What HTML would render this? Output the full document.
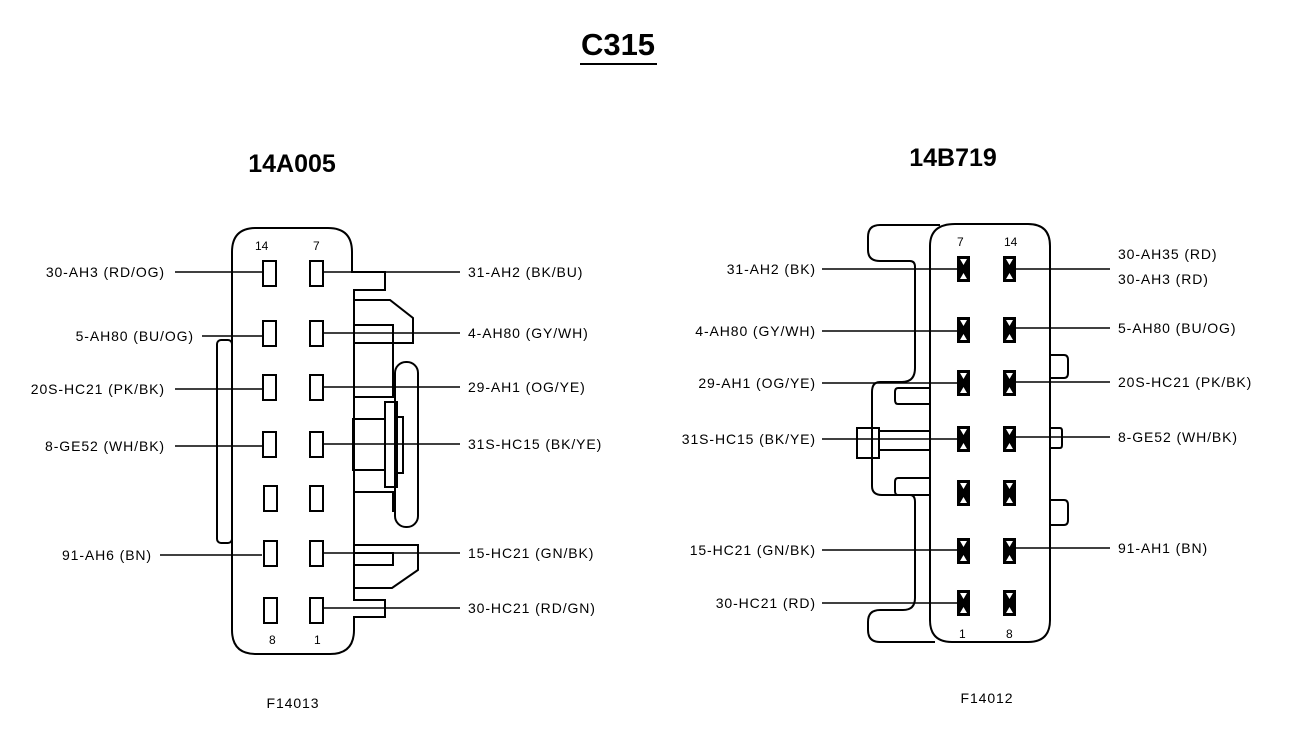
<!DOCTYPE html>
<html><head><style>
html,body{margin:0;padding:0;background:#fff;}
svg{display:block;}
text{font-family:"Liberation Sans",sans-serif;fill:#000;}
.l text.w{font-size:14px;letter-spacing:0.9px;}
</style></head><body>
<svg width="1312" height="752" viewBox="0 0 1312 752" xmlns="http://www.w3.org/2000/svg">
<g fill="none" stroke="#000" stroke-width="2">
<line x1="580" y1="64" x2="657" y2="64"/>
<path d="M256 228 H328 Q352 228 352 252 V272 H385 V290 H354 V600 H385 V617 H354 V630 Q354 654 330 654 H256 Q232 654 232 630 V252 Q232 228 256 228 Z"/>
<rect x="217" y="340" width="15" height="203" rx="4"/>
<path d="M354 300 H390 L413 318 V343 H354"/>
<path d="M354 325 H393 V343"/>
<path d="M354 397 H393 V325"/>
<rect x="395" y="362" width="23" height="165" rx="11"/>
<rect x="353" y="419" width="32" height="51"/>
<rect x="385" y="402" width="12" height="85"/>
<rect x="397" y="417" width="6" height="56"/>
<path d="M354 492 H393 V512"/>
<path d="M354 545 H418 V570 L392 588 H354"/>
<path d="M354 553 H393 V565 H354"/>
<g>
<rect x="263" y="261" width="13" height="25"/><rect x="310" y="261" width="13" height="25"/>
<rect x="263" y="321" width="13" height="25"/><rect x="310" y="321" width="13" height="25"/>
<rect x="263" y="375" width="13" height="25"/><rect x="310" y="375" width="13" height="25"/>
<rect x="263" y="432" width="13" height="25"/><rect x="310" y="432" width="13" height="25"/>
<rect x="264" y="486" width="13" height="25"/><rect x="310" y="486" width="13" height="25"/>
<rect x="264" y="541" width="13" height="25"/><rect x="310" y="541" width="13" height="25"/>
<rect x="264" y="598" width="13" height="25"/><rect x="310" y="598" width="13" height="25"/>
</g>
</g>
<g stroke="#000" stroke-width="1.5">
<line x1="175" y1="272" x2="263" y2="272"/>
<line x1="202" y1="336" x2="263" y2="336"/>
<line x1="175" y1="389" x2="263" y2="389"/>
<line x1="175" y1="446" x2="263" y2="446"/>
<line x1="160" y1="555" x2="262" y2="555"/>
<line x1="323" y1="272" x2="460" y2="272"/>
<line x1="323" y1="333" x2="460" y2="333"/>
<line x1="323" y1="387" x2="460" y2="387"/>
<line x1="324" y1="444" x2="460" y2="444"/>
<line x1="324" y1="553" x2="460" y2="553"/>
<line x1="324" y1="608" x2="460" y2="608"/>
</g>
<g fill="none" stroke="#000" stroke-width="2">
<path d="M955 224 H1028 Q1050 224 1050 246 V620 Q1050 642 1028 642 H952 Q930 642 930 620 V246 Q930 224 955 224 Z"/>
<path d="M940 225 H880 Q868 225 868 237 V250 Q868 261 880 261 H910 Q915 261 915 267 V368 Q915 382 902 382 H880 Q872 382 872 392 V486 Q872 495 882 495 H910 Q915 495 915 502 V598 Q915 610 903 610 H880 Q868 610 868 622 V630 Q868 642 880 642 H935"/>
<path d="M930 388 H898 Q895 388 895 392 V400 Q895 404 898 404 H930"/>
<path d="M930 478 H898 Q895 478 895 482 V491 Q895 495 898 495 H930"/>
<rect x="857" y="428" width="22" height="30"/>
<line x1="879" y1="431" x2="930" y2="431"/>
<line x1="879" y1="450" x2="930" y2="450"/>
<path d="M1050 355 H1064 Q1068 355 1068 360 V373 Q1068 378 1064 378 H1050"/>
<path d="M1050 428 H1060 Q1062 428 1062 431 V445 Q1062 448 1060 448 H1050"/>
<path d="M1050 500 H1064 Q1068 500 1068 505 V520 Q1068 525 1064 525 H1050"/>
</g>
<g fill="#000">
<rect x="957" y="256" width="13" height="26"/><rect x="1003" y="256" width="13" height="26"/>
<rect x="957" y="317" width="13" height="26"/><rect x="1003" y="317" width="13" height="26"/>
<rect x="957" y="370" width="13" height="26"/><rect x="1003" y="370" width="13" height="26"/>
<rect x="957" y="426" width="13" height="26"/><rect x="1003" y="426" width="13" height="26"/>
<rect x="957" y="480" width="13" height="26"/><rect x="1003" y="480" width="13" height="26"/>
<rect x="957" y="538" width="13" height="26"/><rect x="1003" y="538" width="13" height="26"/>
<rect x="957" y="590" width="13" height="26"/><rect x="1003" y="590" width="13" height="26"/>
</g>
<g fill="#fff">
<path d="M960 259 H967 L963.5 265 Z M960 279 H967 L963.5 273 Z M1006 259 H1013 L1009.5 265 Z M1006 279 H1013 L1009.5 273 Z"/>
<path d="M960 320 H967 L963.5 326 Z M960 340 H967 L963.5 334 Z M1006 320 H1013 L1009.5 326 Z M1006 340 H1013 L1009.5 334 Z"/>
<path d="M960 373 H967 L963.5 379 Z M960 393 H967 L963.5 387 Z M1006 373 H1013 L1009.5 379 Z M1006 393 H1013 L1009.5 387 Z"/>
<path d="M960 429 H967 L963.5 435 Z M960 449 H967 L963.5 443 Z M1006 429 H1013 L1009.5 435 Z M1006 449 H1013 L1009.5 443 Z"/>
<path d="M960 483 H967 L963.5 489 Z M960 503 H967 L963.5 497 Z M1006 483 H1013 L1009.5 489 Z M1006 503 H1013 L1009.5 497 Z"/>
<path d="M960 541 H967 L963.5 547 Z M960 561 H967 L963.5 555 Z M1006 541 H1013 L1009.5 547 Z M1006 561 H1013 L1009.5 555 Z"/>
<path d="M960 593 H967 L963.5 599 Z M960 613 H967 L963.5 607 Z M1006 593 H1013 L1009.5 599 Z M1006 613 H1013 L1009.5 607 Z"/>
</g>
<g stroke="#000" stroke-width="1.5">
<line x1="822" y1="269" x2="957" y2="269"/>
<line x1="822" y1="331" x2="957" y2="331"/>
<line x1="822" y1="383" x2="957" y2="383"/>
<line x1="822" y1="439" x2="957" y2="439"/>
<line x1="822" y1="550" x2="957" y2="550"/>
<line x1="822" y1="603" x2="957" y2="603"/>
<line x1="1016" y1="269" x2="1110" y2="269"/>
<line x1="1016" y1="328" x2="1110" y2="328"/>
<line x1="1016" y1="382" x2="1110" y2="382"/>
<line x1="1016" y1="437" x2="1110" y2="437"/>
<line x1="1016" y1="548" x2="1110" y2="548"/>
</g>
<text x="618" y="55" font-size="31" font-weight="bold" text-anchor="middle">C315</text>
<text x="292" y="172" font-size="25" font-weight="bold" text-anchor="middle">14A005</text>
<text x="953" y="166" font-size="25" font-weight="bold" text-anchor="middle">14B719</text>
<g class="l" font-size="13">
<text x="255" y="250" font-size="12">14</text><text x="313" y="250" font-size="12">7</text>
<text x="269" y="644" font-size="12">8</text><text x="314" y="644" font-size="12">1</text>
<text x="957" y="246" font-size="12">7</text><text x="1004" y="246" font-size="12">14</text>
<text x="959" y="638" font-size="12">1</text><text x="1006" y="638" font-size="12">8</text>
<g text-anchor="end">
<text class="w" x="165" y="277">30-AH3 (RD/OG)</text>
<text class="w" x="194" y="341">5-AH80 (BU/OG)</text>
<text class="w" x="165" y="394">20S-HC21 (PK/BK)</text>
<text class="w" x="165" y="451">8-GE52 (WH/BK)</text>
<text class="w" x="152" y="560">91-AH6 (BN)</text>
<text class="w" x="816" y="274">31-AH2 (BK)</text>
<text class="w" x="816" y="336">4-AH80 (GY/WH)</text>
<text class="w" x="816" y="388">29-AH1 (OG/YE)</text>
<text class="w" x="816" y="444">31S-HC15 (BK/YE)</text>
<text class="w" x="816" y="555">15-HC21 (GN/BK)</text>
<text class="w" x="816" y="608">30-HC21 (RD)</text>
</g>
<text class="w" x="468" y="277">31-AH2 (BK/BU)</text>
<text class="w" x="468" y="338">4-AH80 (GY/WH)</text>
<text class="w" x="468" y="392">29-AH1 (OG/YE)</text>
<text class="w" x="468" y="449">31S-HC15 (BK/YE)</text>
<text class="w" x="468" y="558">15-HC21 (GN/BK)</text>
<text class="w" x="468" y="613">30-HC21 (RD/GN)</text>
<text class="w" x="1118" y="259">30-AH35 (RD)</text>
<text class="w" x="1118" y="284">30-AH3 (RD)</text>
<text class="w" x="1118" y="333">5-AH80 (BU/OG)</text>
<text class="w" x="1118" y="387">20S-HC21 (PK/BK)</text>
<text class="w" x="1118" y="442">8-GE52 (WH/BK)</text>
<text class="w" x="1118" y="553">91-AH1 (BN)</text>
<text class="w" x="293" y="708" text-anchor="middle">F14013</text>
<text class="w" x="987" y="703" text-anchor="middle">F14012</text>
</g>
</svg>
</body></html>
